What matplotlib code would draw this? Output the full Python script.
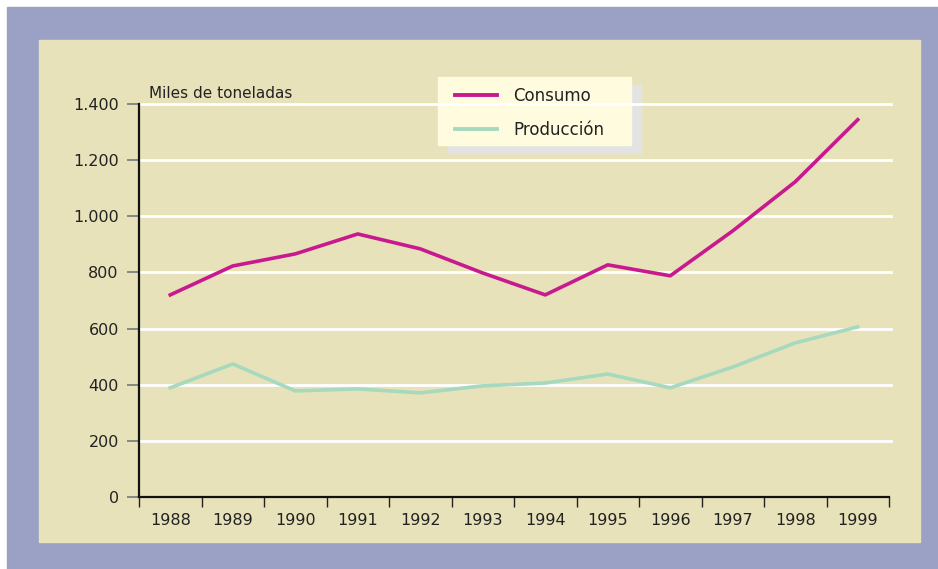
import matplotlib
matplotlib.use("Agg")
import matplotlib.pyplot as plt
from matplotlib.patches import Rectangle

years = ['1988', '1989', '1990', '1991', '1992', '1993',
         '1994', '1995', '1996', '1997', '1998', '1999']
consumo = [720, 823, 866, 937, 884, 798, 720, 827, 788, 948, 1123, 1344]
produccion = [389, 474, 378, 385, 371, 396, 406, 438, 389, 463, 549, 606]
yticks = [0, 200, 400, 600, 800, 1000, 1200, 1400]
ytick_labels = ['0', '200', '400', '600', '800', '1.000', '1.200', '1.400']

FRAME, PANEL, MAGENTA, GREEN = '#9BA1C5', '#E8E2BA', '#C8198F', '#A6D9BE'
plt.rcParams.update({'font.family': 'DejaVu Sans'})

W, H = 938, 569
fig = plt.figure(figsize=(W / 100, H / 100), dpi=100, facecolor='white')


def px_rect(x0, y0, x1, y1, color, z):
    # rectangle given in image pixels (top-left origin)
    fig.patches.append(Rectangle((x0 / W, 1 - y1 / H), (x1 - x0) / W, (y1 - y0) / H,
                                 transform=fig.transFigure, color=color, zorder=z))


px_rect(7, 7, W, H, FRAME, -5)
px_rect(39, 40, 920, 542, PANEL, -4)
px_rect(448, 85, 641, 153, '#E3E3E3', -3)   # legend shadow
px_rect(438, 77, 631, 145, '#FEFBDF', -2)   # legend box

ax = fig.add_axes([139 / W, 1 - 497 / H, (889 - 139) / W, (497 - 104) / H])
ax.set_facecolor('none')
x = [i + 0.5 for i in range(len(years))]
for yv in yticks[1:]:
    ax.axhline(yv, color='white', lw=2, zorder=1, clip_on=False, xmax=1.003)
l1, = ax.plot(x, consumo, color=MAGENTA, lw=2.6, zorder=3, label='Consumo')
l2, = ax.plot(x, produccion, color=GREEN, lw=2.6, zorder=3, label='Producción')

ax.set_xlim(0, len(years))
ax.set_ylim(0, 1400)
ax.set_xticks(range(len(years) + 1))
ax.set_xticklabels([])
ax.set_xticks(x, minor=True)
ax.set_xticklabels(years, minor=True)
ax.tick_params(axis='x', which='major', direction='out', length=7, width=1, color='#222')
ax.tick_params(axis='x', which='minor', length=0, pad=11.5, labelsize=11.5, labelcolor='#222')
ax.set_yticks(yticks)
ax.set_yticklabels(ytick_labels)
ax.tick_params(axis='y', direction='out', length=8.5, width=1.2, color='#777',
               labelsize=11.5, labelcolor='#222', pad=6)
for s in ['top', 'right']:
    ax.spines[s].set_visible(False)
for s in ['left', 'bottom']:
    ax.spines[s].set_color('#111')
    ax.spines[s].set_linewidth(1.6)

fig.text(149 / W, 1 - 94 / H, 'Miles de toneladas', fontsize=11, color='#222',
         va='center', ha='left')

leg = fig.legend(handles=[l1, l2], loc='upper left',
                 bbox_to_anchor=(455 / W, 1 - 87 / H),
                 frameon=False, fontsize=12, handlelength=2.5, handletextpad=1.0,
                 labelspacing=0.95, borderpad=0, borderaxespad=0)
for t in leg.get_texts():
    t.set_color('#222')
for h in leg.legend_handles:
    h.set_linewidth(2.8)
fig.savefig('out.png', dpi=100, facecolor='white')
